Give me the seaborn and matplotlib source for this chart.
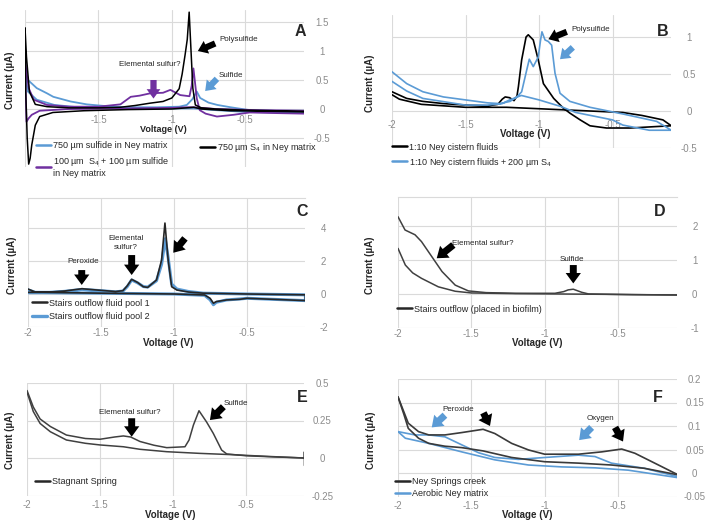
import pandas as pd
import matplotlib
matplotlib.use("Agg")
from matplotlib import pyplot as plt
from matplotlib.lines import Line2D
import seaborn as sns

# ---- panel A (two-sweep loops, volts / microamps) ----
A_black_v = [-0.10, -0.30, -0.50, -0.70, -0.80, -0.84, -0.857, -0.868, -0.882, -0.895, -0.91, -0.93, -0.95,
             -1.00, -1.06, -1.15, -1.25, -1.35, -1.50, -1.70, -1.85, -1.93, -1.97, -1.99, -2.00,
             -1.995, -1.985, -1.975, -1.965, -1.954, -1.93, -1.90, -1.81, -1.60, -1.30, -1.00, -0.90,
             -0.85, -0.80, -0.60, -0.30, -0.10]
A_black_i = [-0.04, -0.03, -0.02, 0.00, 0.02, 0.07, 0.36, 0.93, 1.67, 1.20, 0.93, 0.60, 0.35,
             0.19, 0.13, 0.10, 0.06, 0.03, 0.02, 0.02, 0.04, 0.08, 0.30, 0.90, 1.40,
             0.30, -0.50, -0.95, -0.85, -0.62, -0.28, -0.13, -0.06, -0.03, -0.01, 0.00, 0.02,
             0.03, 0.00, -0.03, -0.04, -0.05]
A_blue_v = [-2.00, -1.98, -1.92, -1.85, -1.807, -1.69, -1.58, -1.45, -1.30, -1.10, -0.95, -0.898, -0.86,
            -0.83, -0.807, -0.75, -0.69, -0.60, -0.47, -0.30, -0.10,
            -0.10, -0.30, -0.50, -0.70, -0.85, -1.00, -1.30, -1.60, -1.80, -1.92, -1.98, -2.00]
A_blue_i = [0.59, 0.50, 0.36, 0.27, 0.21, 0.13, 0.08, 0.05, 0.03, 0.03, 0.04, 0.07, 0.17,
            0.30, 0.19, 0.11, 0.07, 0.03, -0.02, -0.03, -0.03,
            -0.05, -0.06, -0.05, -0.02, 0.01, 0.01, 0.01, 0.02, 0.07, 0.16, 0.30, 0.59]
A_purple_v = [-0.10, -0.30, -0.47, -0.58, -0.693, -0.77, -0.81, -0.83, -0.853, -0.865, -0.88, -0.943,
              -1.01, -1.06, -1.148, -1.22, -1.28, -1.35, -1.50, -1.70, -1.85, -1.94, -1.975, -2.00,
              -1.995, -1.99, -1.975, -1.954, -1.90, -1.70, -1.30, -1.00, -0.90, -0.85, -0.70, -0.40, -0.10]
A_purple_i = [-0.08, -0.07, -0.06, -0.10, -0.13, -0.08, -0.02, 0.18, 0.70, 0.40, 0.22, 0.24,
              0.33, 0.28, 0.27, 0.23, 0.21, 0.08, 0.04, 0.04, 0.07, 0.16, 0.36, 0.84,
              0.30, -0.22, -0.16, -0.10, -0.03, 0.00, 0.01, 0.02, 0.03, 0.03, 0.00, -0.02, -0.03]

# ---- panel B ----
B_black_v = [-2.00, -1.90, -1.79, -1.65, -1.50, -1.35, -1.28, -1.25, -1.23, -1.20, -1.17, -1.15, -1.14,
             -1.118, -1.088, -1.073, -1.039, -1.005, -0.97, -0.90, -0.835, -0.789, -0.72, -0.653,
             -0.54, -0.38, -0.20, -0.10,
             -0.157, -0.30, -0.43, -0.653, -0.88, -1.22, -1.50, -1.80, -1.95, -2.00]
B_black_i = [0.26, 0.17, 0.13, 0.10, 0.08, 0.07, 0.09, 0.16, 0.19, 0.18, 0.14, 0.20, 0.33,
             0.69, 1.00, 1.03, 0.96, 0.69, 0.37, 0.17, 0.04, -0.03, -0.12, -0.20,
             -0.23, -0.23, -0.21, -0.20,
             -0.12, -0.06, -0.02, 0.00, 0.02, 0.05, 0.05, 0.09, 0.16, 0.22]
B_blue_v = [-2.00, -1.90, -1.79, -1.65, -1.50, -1.35, -1.265, -1.197, -1.15, -1.118, -1.084, -1.066,
            -1.039, -1.005, -0.99, -0.98, -0.959, -0.937, -0.914, -0.891, -0.857, -0.79, -0.653,
            -0.43, -0.20, -0.10,
            -0.25, -0.43, -0.50, -0.60, -0.75, -0.85, -1.00, -1.12, -1.20, -1.25, -1.35, -1.50,
            -1.79, -1.90, -2.00]
B_blue_i = [0.53, 0.37, 0.26, 0.19, 0.15, 0.11, 0.10, 0.13, 0.19, 0.26, 0.55, 0.70,
            0.60, 0.73, 0.95, 1.07, 0.96, 0.94, 0.89, 0.51, 0.24, 0.13, 0.05,
            -0.04, -0.14, -0.26,
            -0.26, -0.19, -0.12, -0.08, -0.02, 0.06, 0.15, 0.21, 0.15, 0.10, 0.08, 0.08,
            0.17, 0.27, 0.40]

# ---- panel C ----
C_black_v = [-2.00, -1.95, -1.85, -1.75, -1.63, -1.50, -1.40, -1.35, -1.32, -1.29, -1.25, -1.21, -1.18,
             -1.12, -1.085, -1.062, -1.04, -1.016, -0.98, -0.90, -0.80, -0.50, -0.10,
             -0.10, -0.30, -0.50, -0.548, -0.64, -0.71, -0.73, -0.753, -0.79, -1.00, -1.50, -1.90, -2.00]
C_black_i = [0.30, 0.12, 0.12, 0.18, 0.32, 0.22, 0.15, 0.20, 0.50, 0.89, 0.70, 0.44, 0.40,
             0.85, 2.06, 4.30, 2.06, 0.44, 0.24, 0.12, 0.05, 0.00, -0.05,
             -0.40, -0.33, -0.26, -0.32, -0.36, -0.46, -0.56, -0.26, -0.06, 0.00, 0.05, 0.10, 0.10]
C_blue_v = [-2.00, -1.95, -1.85, -1.75, -1.63, -1.50, -1.40, -1.35, -1.32, -1.29, -1.25, -1.21, -1.18,
            -1.12, -1.085, -1.06, -1.04, -1.016, -0.98, -0.90, -0.80, -0.50, -0.10,
            -0.10, -0.30, -0.50, -0.548, -0.64, -0.71, -0.73, -0.753, -0.79, -1.00, -1.50, -1.90, -2.00]
C_blue_i = [0.25, 0.10, 0.10, 0.16, 0.28, 0.20, 0.13, 0.18, 0.45, 0.85, 0.68, 0.45, 0.42,
            0.80, 1.80, 3.35, 2.20, 0.60, 0.30, 0.15, 0.05, 0.00, -0.05,
            -0.40, -0.33, -0.26, -0.30, -0.36, -0.50, -0.65, -0.35, -0.08, 0.00, 0.05, 0.08, 0.08]

# ---- panel D (sweeps do not join at -2 V) ----
D_up_v = [-2.00, -1.952, -1.884, -1.84, -1.77, -1.70, -1.61, -1.52, -1.40, -1.20, -0.93, -0.87, -0.84,
          -0.805, -0.748, -0.70, -0.40, -0.09]
D_up_i = [2.27, 1.88, 1.74, 1.54, 1.10, 0.66, 0.26, 0.09, 0.04, 0.02, 0.02, 0.07, 0.12,
          0.14, 0.05, 0.00, -0.02, -0.03]
D_down_v = [-2.00, -1.95, -1.90, -1.84, -1.725, -1.61, -1.50, -1.20, -0.90, -0.60, -0.09]
D_down_i = [1.34, 0.85, 0.62, 0.46, 0.21, 0.08, 0.03, 0.01, 0.00, -0.01, -0.03]

# ---- panel E ----
E_up_v = [-2.00, -1.957, -1.91, -1.84, -1.73, -1.60, -1.50, -1.40, -1.34, -1.29, -1.226, -1.13, -1.043,
          -0.918, -0.89, -0.86, -0.822, -0.77, -0.724, -0.667, -0.632, -0.50, -0.30, -0.10]
E_up_i = [0.45, 0.34, 0.26, 0.21, 0.153, 0.13, 0.125, 0.14, 0.147, 0.14, 0.11, 0.085, 0.069,
          0.075, 0.12, 0.22, 0.315, 0.24, 0.164, 0.053, 0.027, 0.015, 0.007, 0.0]
E_down_v = [-2.00, -1.957, -1.91, -1.84, -1.73, -1.60, -1.50, -1.34, -1.226, -1.043, -0.82, -0.59,
            -0.36, -0.10, -0.10, -0.10]
E_down_i = [0.44, 0.31, 0.23, 0.175, 0.12, 0.098, 0.087, 0.075, 0.058, 0.042, 0.031, 0.022,
            0.011, 0.0, 0.04, -0.05]

# ---- panel F ----
F_black_up_v = [-2.00, -1.96, -1.93, -1.86, -1.79, -1.68, -1.566, -1.42, -1.34, -1.225, -1.11, -1.00,
                -0.77, -0.61, -0.475, -0.385, -0.25, -0.09]
F_black_up_i = [0.162, 0.13, 0.106, 0.088, 0.081, 0.081, 0.086, 0.093, 0.084, 0.063, 0.049, 0.040,
                0.040, 0.045, 0.051, 0.042, 0.021, -0.004]
F_black_down_v = [-2.00, -1.96, -1.93, -1.86, -1.79, -1.68, -1.566, -1.42, -1.225, -1.00, -0.77,
                  -0.545, -0.32, -0.09]
F_black_down_i = [0.162, 0.125, 0.095, 0.074, 0.063, 0.057, 0.054, 0.047, 0.033, 0.024, 0.021,
                  0.017, 0.010, -0.004]
F_blue_up_v = [-2.00, -1.884, -1.79, -1.68, -1.566, -1.45, -1.34, -1.18, -1.00, -0.77, -0.657, -0.545,
               -0.32, -0.09]
F_blue_up_i = [0.088, 0.081, 0.081, 0.077, 0.060, 0.043, 0.033, 0.029, 0.033, 0.038, 0.035, 0.021,
               0.010, -0.008]
F_blue_down_v = [-2.00, -1.95, -1.79, -1.566, -1.34, -1.11, -0.885, -0.657, -0.43, -0.09]
F_blue_down_i = [0.088, 0.074, 0.063, 0.045, 0.028, 0.017, 0.013, 0.011, 0.006, -0.010]

BLUE = "#5b9bd5"
PURPLE = "#7030a0"
DARK = "#3a3a3a"
W, H = 709, 524

sns.set_style("whitegrid")
plt.rcParams["font.family"] = ["Liberation Sans", "DejaVu Sans"]
plt.rcParams["mathtext.fontset"] = "custom"
plt.rcParams["mathtext.rm"] = "Liberation Sans"
plt.rcParams["mathtext.it"] = "Liberation Sans:italic"
plt.rcParams["axes.unicode_minus"] = False

fig = plt.figure(figsize=(7.09, 5.24), dpi=100)


def make_ax(left, right, top, bottom):
    return fig.add_axes([left / W, 1 - bottom / H, (right - left) / W, (bottom - top) / H])


def curve(ax, branches, color, lw):
    rows = []
    for b, (vs, cs) in enumerate(branches):
        rows += [{"V": v, "I": c, "branch": b} for v, c in zip(vs, cs)]
    df = pd.DataFrame(rows)
    sns.lineplot(data=df, x="V", y="I", units="branch", estimator=None, sort=False,
                 color=color, linewidth=lw, ax=ax, legend=False)


def style(ax, ylim, yticks, xpad, xl, yl, top_line=False, show_m2=True, at_zero=False, lfs=7):
    ax.set_xlim(-2, -0.1)
    ax.set_ylim(*ylim)
    ax.set_xticks([-2, -1.5, -1, -0.5])
    ax.set_xticklabels(["-2" if show_m2 else "", "-1.5", "-1", "-0.5"])
    ax.set_yticks(yticks)
    ax.set_yticklabels([f"{t:g}" for t in yticks])
    ax.yaxis.tick_right()
    ax.yaxis.set_label_position("left")
    ax.tick_params(length=0, labelsize=7, labelcolor="#8c8c8c")
    ax.tick_params(axis="y", pad=13)
    ax.tick_params(axis="x", pad=xpad)
    plt.setp(ax.get_yticklabels(), ha="center")
    ax.grid(True, color="#dadada", lw=0.8)
    for s in ax.spines.values():
        s.set_visible(False)
    if top_line:
        ax.spines["top"].set_visible(True)
        ax.spines["top"].set_color("#dadada")
        ax.spines["top"].set_linewidth(0.8)
    if at_zero:
        ax.spines["bottom"].set_position(("data", 0))
    ax.set_xlabel("Voltage (V)", fontsize=lfs, fontweight="bold", color="#262626")
    ax.set_ylabel("Current (µA)", fontsize=7, fontweight="bold", color="#262626")
    ax.xaxis.set_label_coords(*xl)
    ax.yaxis.set_label_coords(*yl)


def legend(ax, items, x, ytop, spacing=0.5, fs=6.5):
    handles = [Line2D([], [], color=c, lw=lw) for _, c, lw in items]
    labels = [t for t, _, _ in items]
    leg = ax.legend(handles, labels, loc="upper left", bbox_to_anchor=(x / W, 1 - ytop / H),
                    bbox_transform=fig.transFigure, frameon=False, fontsize=fs, handlelength=1.65,
                    handletextpad=0.25, borderpad=0, borderaxespad=0, labelspacing=spacing)
    return leg


def note(ax, text, xy, ha="center"):
    ax.text(xy[0], xy[1], text, fontsize=5.8, color="#262626", ha=ha, va="center",
            linespacing=1.3)


def arrow(ax, tail, head, color="black", scale=9):
    ax.annotate("", xy=head, xytext=tail,
                arrowprops=dict(arrowstyle="simple,head_length=0.75,head_width=1.1,tail_width=0.5",
                                fc=color, ec=color, lw=0, mutation_scale=scale,
                                shrinkA=0, shrinkB=0))


def letter(x, y, s):
    fig.text(x / W, 1 - y / H, s, fontsize=11.5, fontweight="bold", ha="center", va="center")


# ---- A ----
axA = make_ax(25, 304, 10.4, 167)
curve(axA, [(A_blue_v, A_blue_i)], BLUE, 1.3)
curve(axA, [(A_purple_v, A_purple_i)], PURPLE, 1.3)
curve(axA, [(A_black_v, A_black_i)], "black", 1.1)
style(axA, (-1.0, 1.7), [-0.5, 0, 0.5, 1, 1.5], 4, (0.495, 0.271), (-0.037, 0.556),
      show_m2=False, at_zero=True, lfs=6.5)
leg1 = legend(axA, [("750 µm sulfide in Ney matrix", BLUE, 1.8),
                    ("100 µm  $\\mathrm{S}_4$ + 100 µm sulfide\nin Ney matrix", PURPLE, 1.8)],
              36, 141.5, spacing=0.45)
axA.add_artist(leg1)
legend(axA, [("750 µm $\\mathrm{S}_4$ in Ney matrix", "black", 1.8)], 200, 141.5)
note(axA, "Elemental sulfur?", (-1.15, 0.77))
arrow(axA, (-1.125, 0.50), (-1.125, 0.18), PURPLE)
note(axA, "Polysulfide", (-0.675, 1.19), ha="left")
arrow(axA, (-0.705, 1.13), (-0.823, 1.0), "black")
note(axA, "Sulfide", (-0.684, 0.57), ha="left")
arrow(axA, (-0.693, 0.52), (-0.773, 0.31), BLUE)
letter(300, 32, "A")

# ---- B ----
axB = make_ax(392, 671.3, 14.8, 148)
curve(axB, [(B_black_v, B_black_i)], "black", 1.2)
curve(axB, [(B_blue_v, B_blue_i)], BLUE, 1.2)
style(axB, (-0.5, 1.3), [-0.5, 0, 0.5, 1], 6.5, (0.476, 0.139), (-0.062, 0.488), at_zero=True)
legend(axB, [("1:10 Ney cistern fluids", "black", 1.8),
             ("1:10 Ney cistern fluids + 200 µm $\\mathrm{S}_4$", BLUE, 1.8)], 392, 142.5, spacing=0.45)
note(axB, "Polysulfide", (-0.777, 1.10), ha="left")
arrow(axB, (-0.811, 1.07), (-0.936, 0.97), "black")
arrow(axB, (-0.77, 0.86), (-0.857, 0.70), BLUE)
letter(663, 32, "B")

# ---- C ----
axC = make_ax(28, 305.4, 198.3, 327)
curve(axC, [(C_blue_v, C_blue_i)], BLUE, 2.2)
curve(axC, [(C_black_v, C_black_i)], "#262626", 1.2)
style(axC, (-2, 5.8), [-2, 0, 2, 4], 0.5, (0.505, -0.082), (-0.040, 0.482), top_line=True)
legend(axC, [("Stairs outflow fluid pool 1", "#262626", 1.8),
             ("Stairs outflow fluid pool 2", BLUE, 2.4)], 32, 298.5, spacing=0.55)
note(axC, "Peroxide", (-1.621, 1.96))
arrow(axC, (-1.632, 1.45), (-1.632, 0.55), "black", 10)
note(axC, "Elemental\nsulfur?", (-1.329, 3.1))
arrow(axC, (-1.29, 2.36), (-1.29, 1.15), "black", 10)
arrow(axC, (-0.925, 3.37), (-1.005, 2.5), "black", 10)
letter(302, 212, "C")

# ---- D ----
axD = make_ax(398, 676.7, 197, 328)
curve(axD, [(D_up_v, D_up_i), (D_down_v, D_down_i)], "#404040", 1.1)
style(axD, (-1, 2.85), [-1, 0, 1, 2], 0.5, (0.499, -0.073), (-0.083, 0.48), top_line=True)
legend(axD, [("Stairs outflow (placed in biofilm)", "#262626", 1.8)], 397, 304.5)
note(axD, "Elemental sulfur?", (-1.634, 1.49), ha="left")
arrow(axD, (-1.623, 1.44), (-1.736, 1.05), "black", 10)
note(axD, "Sulfide", (-0.816, 1.0))
arrow(axD, (-0.805, 0.85), (-0.805, 0.31), "black", 10)
letter(660, 212, "D")

# ---- E ----
axE = make_ax(27, 304.4, 383, 495.5)
curve(axE, [(E_up_v, E_up_i), (E_down_v, E_down_i)], "#404040", 1.1)
style(axE, (-0.25, 0.5), [-0.25, 0, 0.25, 0.5], 3, (0.515, -0.133), (-0.044, 0.49))
legend(axE, [("Stagnant Spring", "#262626", 1.8)], 35, 477.5)
note(axE, "Elemental sulfur?", (-1.295, 0.305))
arrow(axE, (-1.283, 0.265), (-1.283, 0.142), "black", 10)
note(axE, "Sulfide", (-0.655, 0.365), ha="left")
arrow(axE, (-0.655, 0.342), (-0.747, 0.253), "black", 10)
letter(302, 397, "E")

# ---- F ----
axF = make_ax(398, 676.7, 379, 496.5)
curve(axF, [(F_blue_up_v, F_blue_up_i), (F_blue_down_v, F_blue_down_i)], BLUE, 1.2)
curve(axF, [(F_black_up_v, F_black_up_i), (F_black_down_v, F_black_down_i)], DARK, 1.2)
style(axF, (-0.05, 0.2), [-0.05, 0, 0.05, 0.1, 0.15, 0.2], 3, (0.463, -0.111), (-0.08, 0.48))
legend(axF, [("Ney Springs creek", "#262626", 1.8), ("Aerobic Ney matrix", BLUE, 1.8)],
       395, 477.5, spacing=0.25)
note(axF, "Peroxide", (-1.591, 0.136))
arrow(axF, (-1.68, 0.123), (-1.77, 0.097), BLUE, 10)
arrow(axF, (-1.418, 0.128), (-1.373, 0.100), "black", 10)
note(axF, "Oxygen", (-0.623, 0.115))
arrow(axF, (-0.68, 0.097), (-0.765, 0.070), BLUE, 10)
arrow(axF, (-0.52, 0.097), (-0.466, 0.067), "black", 10)
letter(658, 397, "F")

fig.savefig("out.png", dpi=100)
